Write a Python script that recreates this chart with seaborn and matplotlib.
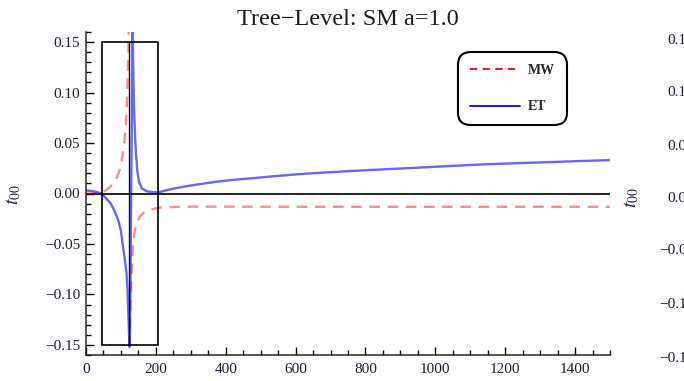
import numpy as np
import pandas as pd
import seaborn as sns
import matplotlib.pyplot as plt
from matplotlib.lines import Line2D
from matplotlib.patches import Rectangle
from matplotlib.ticker import MultipleLocator

# MW curve (red dashed), two branches either side of the pole
mw_x1 = [0, 20, 45, 60, 70, 80, 90, 97, 104, 111, 116, 119, 121, 122.5]
mw_y1 = [0.0, 0.0, 0.0005, 0.004, 0.007, 0.011, 0.017, 0.024, 0.036, 0.054, 0.08, 0.11, 0.135, 0.17]
mw_x2 = [123.5, 125, 127, 131, 135, 140, 147, 154, 165, 183, 210, 234, 300, 400, 600, 800, 1000, 1200, 1500]
mw_y2 = [-0.17, -0.14, -0.11, -0.075, -0.05, -0.036, -0.028, -0.023, -0.019, -0.016, -0.014, -0.0135,
         -0.013, -0.013, -0.0132, -0.0132, -0.0132, -0.0132, -0.0132]

# ET curve (blue solid)
et_x = [0, 15, 30, 45, 55, 69, 80, 92, 100, 106, 111, 116, 119, 121, 123, 124.5, 126, 133.5,
        135, 137, 140, 143, 147, 152, 160, 175, 205, 240, 278, 320, 373, 420, 469, 540, 611,
        680, 754, 850, 945, 1040, 1135, 1230, 1326, 1410, 1500]
et_y = [0.003, 0.0025, 0.0015, 0.0, -0.004, -0.009, -0.016, -0.026, -0.037, -0.053, -0.065, -0.079,
        -0.095, -0.118, -0.138, -0.152, -0.138, 0.17,
        0.13, 0.09, 0.06, 0.04, 0.022, 0.011, 0.005, 0.002, 0.001, 0.004, 0.0067, 0.009, 0.0116,
        0.0135, 0.0149, 0.0172, 0.0192, 0.0207, 0.0222, 0.0239, 0.0255, 0.0272, 0.0288, 0.0300,
        0.0311, 0.0321, 0.0331]

# zoom box and pole marker
box_x = [45, 205]
box_y = [-0.15, 0.15]
pole_x = 124

y_ticks = [-0.15, -0.10, -0.05, 0.0, 0.05, 0.10, 0.15]
y_labels = ['\u22120.15', '\u22120.10', '\u22120.05', '0.00', '0.05', '0.10', '0.15']
x_ticks = [0, 200, 400, 600, 800, 1000, 1200, 1400]

# tick labels of the neighbouring panel (cut off at the right edge, as in the source)
side_labels = ['0.15', '0.10', '0.05', '0.00', '\u22120.05', '\u22120.10', '\u22120.15']
side_px = [41, 93, 146, 198, 250, 304, 358]

mw = pd.DataFrame({'x': mw_x1 + mw_x2, 'y': mw_y1 + mw_y2,
                   'branch': [0] * len(mw_x1) + [1] * len(mw_x2)})
et = pd.DataFrame({'x': et_x, 'y': et_y, 'branch': 0})

sns.set_style('ticks')
plt.rcParams['font.family'] = ['Liberation Serif', 'DejaVu Serif']
plt.rcParams['mathtext.fontset'] = 'stix'

fig = plt.figure(figsize=(6.84, 3.81), dpi=100)
ax = fig.add_axes([86 / 684, 1 - 355 / 381, 524 / 684, 323 / 381])

ax.axhline(0, color='black', lw=1.2, zorder=1)
ax.add_patch(Rectangle((box_x[0], box_y[0]), box_x[1] - box_x[0], box_y[1] - box_y[0],
                       fill=False, ec='black', lw=1.2, zorder=3))
ax.plot([pole_x, pole_x], box_y, color='#101030', lw=1.0, zorder=3)

sns.lineplot(data=mw, x='x', y='y', units='branch', estimator=None, sort=False, ax=ax,
             color='red', alpha=0.45, lw=1.7, linestyle=(0, (4.5, 3.2)), legend=False)
sns.lineplot(data=et, x='x', y='y', units='branch', estimator=None, sort=False, ax=ax,
             color='blue', alpha=0.6, lw=1.7, legend=False)

ax.set_xlim(0, 1500)
ax.set_ylim(-0.16, 0.16)
ax.set_yticks(y_ticks)
ax.set_yticklabels(y_labels)
ax.set_xticks(x_ticks)
ax.xaxis.set_minor_locator(MultipleLocator(50))
ax.yaxis.set_minor_locator(MultipleLocator(0.01))
ax.tick_params(which='both', direction='in', width=1, colors='black', labelcolor='#1c1c3a',
               labelsize=11)
ax.tick_params(which='major', length=6)
ax.tick_params(which='minor', length=3.5)
ax.tick_params(axis='x', pad=6)
ax.tick_params(axis='y', pad=4)
for s in ['top', 'right']:
    ax.spines[s].set_visible(False)
for s in ['left', 'bottom']:
    ax.spines[s].set_linewidth(1.1)

ax.set_xlabel('')
ax.set_ylabel(r'$t_{00}$', fontsize=14, color='#1c1c3a')
ax.yaxis.set_label_coords(-0.12, 0.495)
ax.set_title('Tree\u2212Level: SM a=1.0', fontsize=17.5, pad=5, color='#1c1c1c')

handles = [Line2D([], [], color='red', lw=1.3, linestyle=(0, (4, 3))),
           Line2D([], [], color='blue', lw=1.3)]
leg = ax.legend(handles, ['MW', 'ET'], loc='upper left', bbox_to_anchor=(458 / 684, 1 - 52 / 381),
                bbox_transform=fig.transFigure, borderaxespad=0, frameon=True, fancybox=True,
                handlelength=3.6, handletextpad=0.6, labelspacing=1.7, borderpad=0.85,
                prop={'family': 'Liberation Serif', 'weight': 'bold', 'size': 10})
frame = leg.get_frame()
frame.set_edgecolor('black')
frame.set_linewidth(1.5)
frame.set_facecolor('white')
frame.set_alpha(1)
frame.set_boxstyle('round,pad=0,rounding_size=0.9')

# neighbouring panel remnants on the right edge
fig.text(632 / 684, 1 - 198 / 381, r'$t_{00}$', fontsize=14, rotation=90, ha='center', va='center',
         color='#1c1c3a')
for lab, py in zip(side_labels, side_px):
    fig.text(694 / 684, 1 - py / 381, lab, fontsize=11, ha='right', va='center', color='#1c1c3a')

fig.savefig('out.png', dpi=100)
